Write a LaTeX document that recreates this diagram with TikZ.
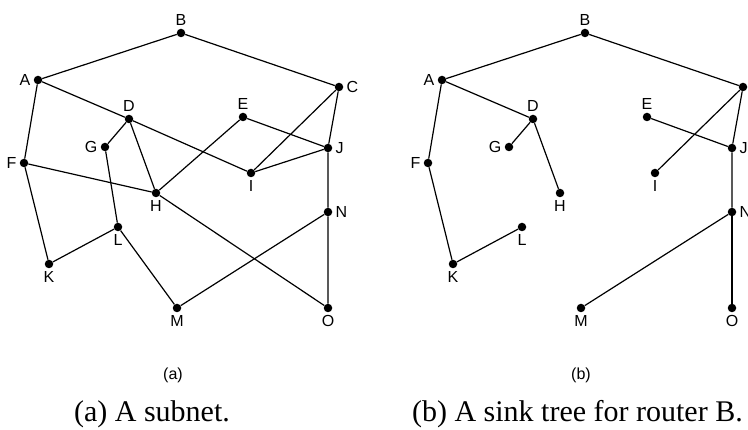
\documentclass[tikz,border=0pt]{standalone}
\usepackage{fontspec}
\setmainfont{Liberation Serif}
\setsansfont{Liberation Sans}

\begin{document}
\begin{tikzpicture}[x=1pt, y=-1pt,
    router/.style={circle, fill=black, inner sep=0pt, minimum size=8.5pt},
    lbl/.style={font=\sffamily\fontsize{16}{16}\selectfont, inner sep=3pt},
    link/.style={line width=1.2pt},
    caption/.style={font=\fontsize{30}{30}\selectfont, inner sep=0pt}]
    \useasboundingbox (0,0) rectangle (748,430);

    % Routers, same places in both panels
    \foreach \p/\dx in {a/0, b/404} {
    \begin{scope}[shift={(\dx,0)}, name prefix=\p]
    \node[router, label={[lbl]above:B}] (B) at (181,33) {};
    \node[router, label={[lbl]left:A}] (A) at (38,80) {};
    \node[router, label={[lbl]right:C}] (C) at (339,87) {};
    \node[router, label={[lbl]above:D}] (D) at (129,119) {};
    \node[router, label={[lbl]above:E}] (E) at (243,117) {};
    \node[router, label={[lbl]left:G}] (G) at (105,147) {};
    \node[router, label={[lbl]right:J}] (J) at (328,148) {};
    \node[router, label={[lbl]left:F}] (F) at (24,163) {};
    \node[router, label={[lbl]below:I}] (I) at (251,173) {};
    \node[router, label={[lbl]below:H}] (H) at (156,193) {};
    \node[router, label={[lbl]right:N}] (N) at (328,212) {};
    \node[router, label={[lbl]below:L}] (L) at (118,227) {};
    \node[router, label={[lbl]below:K}] (K) at (49,264) {};
    \node[router, label={[lbl]below:M}] (M) at (177,308) {};
    \node[router, label={[lbl]below:O}] (O) at (328,308) {};
    \end{scope}
    }

    % (a) the subnet
    \draw[link] (aA) -- (aB) -- (aC);
    \draw[link] (aA) -- (aD) -- (aI);
    \draw[link] (aA) -- (aF) -- (aK) -- (aL) -- (aM) -- (aN) -- (aO);
    \draw[link] (aD) -- (aG) -- (aL);
    \draw[link] (aD) -- (aH) -- (aO);
    \draw[link] (aF) -- (aH) -- (aE) -- (aJ);
    \draw[link] (aC) -- (aJ) -- (aN);
    \draw[link] (aC) -- (aI) -- (aJ);

    % (b) the sink tree for B
    \draw[link] (bA) -- (bB) -- (bC);
    \draw[link] (bA) -- (bD) -- (bG);
    \draw[link] (bD) -- (bH);
    \draw[link] (bA) -- (bF) -- (bK) -- (bL);
    \draw[link] (bC) -- (bI);
    \draw[link] (bC) -- (bJ) -- (bN) -- (bM);
    \draw[link] (bE) -- (bJ);
    \draw[link] (bN) -- (bO);

    % Panel letters and captions
    \node[lbl] (tagA) at (173,375) {(a)};
    \node[lbl] (tagB) at (581,375) {(b)};
    \node[caption, anchor=base] (capA) at (152,422) {(a) A subnet.};
    \node[caption, anchor=base east] (capB) at (743,422) {(b) A sink tree for router B.};
\end{tikzpicture}
\end{document}
